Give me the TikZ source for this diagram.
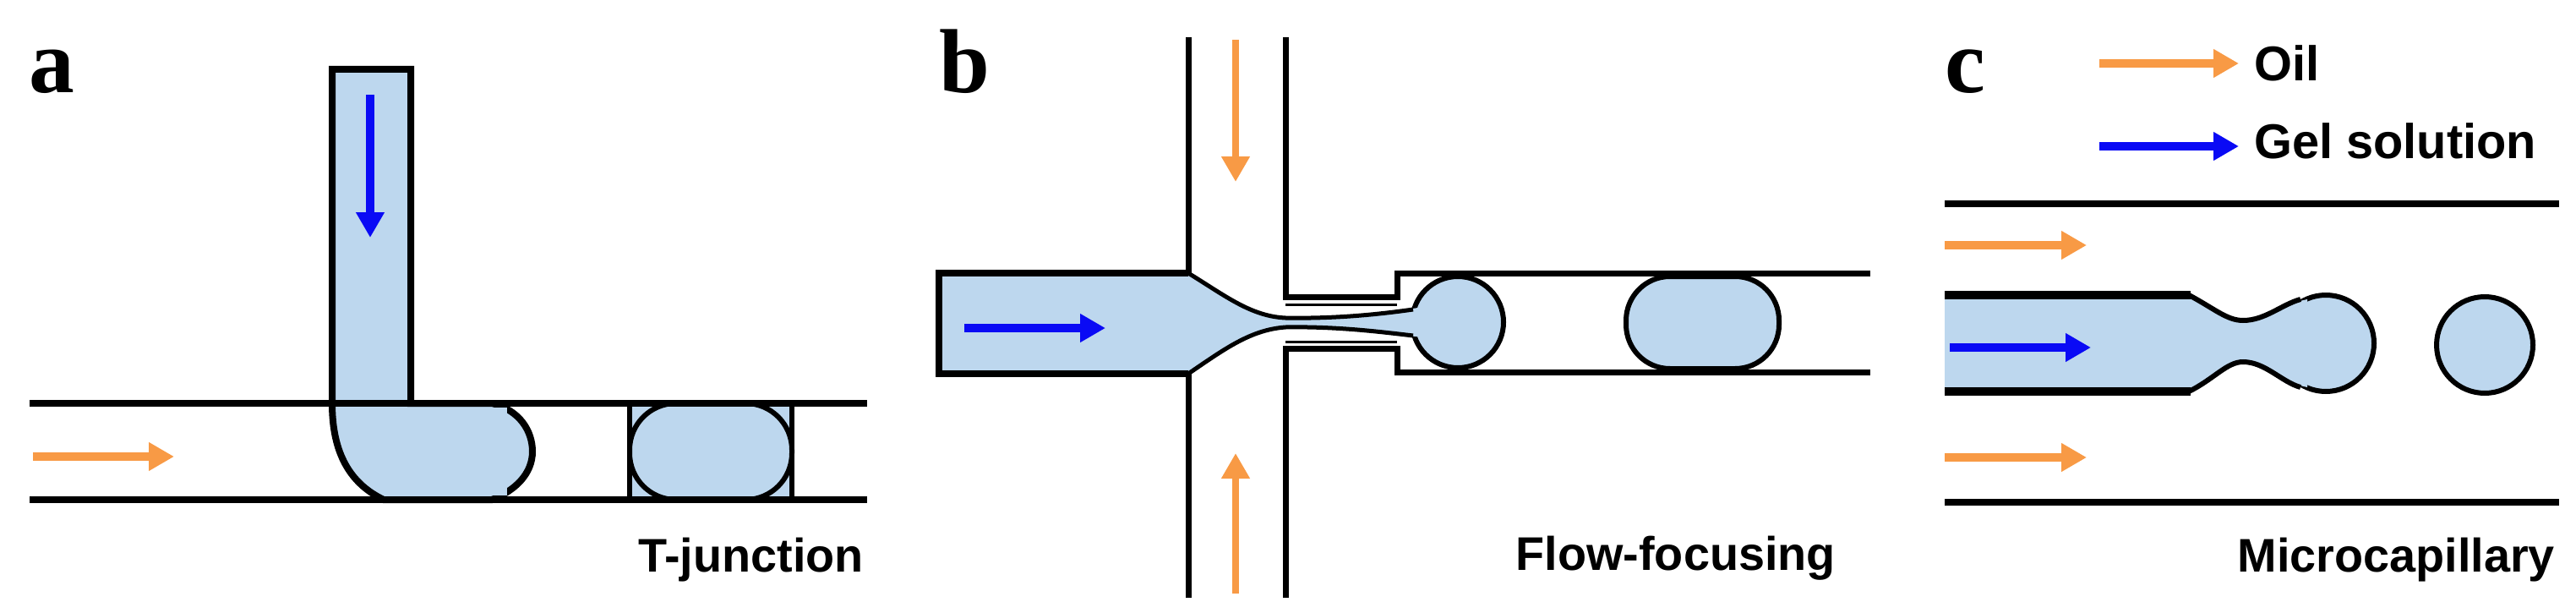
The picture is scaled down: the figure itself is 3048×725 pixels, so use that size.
\documentclass[tikz,border=0pt]{standalone}
\usepackage{fontspec}
\newfontfamily\lsans{Liberation Sans}
\newfontfamily\lserif{Liberation Serif}
\usetikzlibrary{arrows.meta}
\definecolor{fluid}{HTML}{BDD7EE}
\definecolor{oilc}{HTML}{F89A45}
\definecolor{gelc}{HTML}{0A0AF5}
\begin{document}
\begin{tikzpicture}[x=1bp,y=-1bp,
  wall/.style={line width=8bp,line cap=rect},
  dropl/.style={fill=fluid,draw=black,line width=6bp},
  oil/.style={oilc,line width=10bp,-{Triangle[length=30bp,width=32bp]}},
  gel/.style={gelc,line width=10bp,-{Triangle[length=30bp,width=32bp]}},
  letter/.style={font=\lserif\bfseries\fontsize{108}{108}\selectfont,inner sep=0,anchor=base west},
  lab/.style={font=\lsans\bfseries\fontsize{56}{56}\selectfont,inner sep=0}]
\useasboundingbox (0,0) rectangle (3048,725);
% ---------- panel a
\node[letter] (la) at (34,110) {a};
\draw[dropl,line width=8bp,line join=miter] (393,82) -- (486,82) -- (486,477) -- (582,477) .. controls (615,485) and (630,510) .. (630,534) .. controls (630,560) and (610,580) .. (582,591) -- (454,591) .. controls (410,570) and (393,530) .. (393,477) -- cycle;
\draw[wall] (39,477) -- (393,477) (486,477) -- (1022,477) (39,591) -- (1022,591);
\draw[dropl] (745,477) rectangle (937,591);
\draw[dropl,rounded corners=55bp] (745,477) rectangle (937,591);
\draw[wall] (39,477) -- (1022,477);
\fill[fluid] (500,482) rectangle (600,586);
\draw[wall] (486,477) -- (1022,477) (454,591) -- (1022,591);
\coordinate (ao1) at (39,540); \coordinate (ao2) at (206,540);
\draw[oil] (ao1) -- (ao2);
\coordinate (ag1) at (438,112); \coordinate (ag2) at (438,281);
\draw[gel] (ag1) -- (ag2);
\node[lab,anchor=base east] (ta) at (1022,676) {T-junction};
% ---------- panel b
\node[letter] (lb) at (1111,110) {b};
\draw[dropl] (1725,381) ellipse [x radius=54, y radius=54];
\fill[fluid] (1111,323) -- (1406,323) .. controls (1450,350) and (1480,374) .. (1521,376) .. controls (1580,377) and (1630,372) .. (1690,362) -- (1690,400) .. controls (1630,392) and (1580,386) .. (1521,387) .. controls (1480,390) and (1450,412) .. (1406,442) -- (1111,442) -- cycle;
\draw[line width=5bp] (1406,323) .. controls (1450,350) and (1480,374) .. (1521,376) .. controls (1580,377) and (1630,372) .. (1672,366);
\draw[line width=5bp] (1406,442) .. controls (1450,412) and (1480,390) .. (1521,387) .. controls (1580,386) and (1630,392) .. (1672,397);
\draw[wall,line cap=butt] (1406,323) -- (1111,323) -- (1111,442) -- (1406,442);
\draw[wall,line width=7bp,line cap=butt] (1406,44) -- (1406,323) (1406,442) -- (1406,707)
  (1521,44) -- (1521,351) -- (1653,351) -- (1653,323) -- (2213,323)
  (1521,707) -- (1521,412) -- (1653,412) -- (1653,440) -- (2213,440);
\draw[line width=3bp] (1521,360) -- (1653,360) (1521,404) -- (1653,404);
\draw[dropl,rounded corners=52bp] (1924,327) rectangle (2105,436);
\coordinate (bo1) at (1462,47); \coordinate (bo2) at (1462,215);
\coordinate (bo3) at (1462,702); \coordinate (bo4) at (1462,536);
\draw[oil,line width=8bp] (bo1) -- (bo2);
\draw[oil,line width=8bp] (bo3) -- (bo4);
\coordinate (bg1) at (1141,388); \coordinate (bg2) at (1308,388);
\draw[gel] (bg1) -- (bg2);
\node[lab,anchor=base east] (tb) at (2172,674) {Flow-focusing};
% ---------- panel c
\node[letter] (lc) at (2301,110) {c};
\coordinate (lo1) at (2484,75); \coordinate (lo2) at (2649,75);
\draw[oil] (lo1) -- (lo2);
\node[lab,anchor=base west,font=\lsans\bfseries\fontsize{58}{58}\selectfont] (toil) at (2667,96) {Oil};
\coordinate (lg1) at (2484,173); \coordinate (lg2) at (2649,173);
\draw[gel] (lg1) -- (lg2);
\node[lab,anchor=base west,font=\lsans\bfseries\fontsize{58}{58}\selectfont] (tgel) at (2667,187) {Gel solution};
\draw[wall,line cap=butt] (2301,241) -- (3028,241) (2301,594) -- (3028,594);
\draw[dropl] (2752,406) circle [radius=57];
\fill[fluid] (2301,349) -- (2590,349) .. controls (2620,365) and (2635,379) .. (2654,379) .. controls (2680,379) and (2700,360) .. (2730,354) -- (2730,458) .. controls (2700,452) and (2680,428) .. (2654,428) .. controls (2635,428) and (2620,448) .. (2590,463) -- (2301,463) -- cycle;
\draw[line width=6bp] (2590,349) .. controls (2620,365) and (2635,379) .. (2654,379) .. controls (2680,379) and (2700,360) .. (2722,354);
\draw[line width=6bp] (2590,463) .. controls (2620,448) and (2635,428) .. (2654,428) .. controls (2680,428) and (2700,452) .. (2722,458);
\draw[wall,line width=10bp,line cap=butt] (2301,349) -- (2592,349) (2301,463) -- (2592,463);
\draw[dropl] (2940,408) circle [radius=57];
\coordinate (co1) at (2301,290); \coordinate (co2) at (2469,290);
\coordinate (co3) at (2301,541); \coordinate (co4) at (2469,541);
\draw[oil] (co1) -- (co2);
\draw[oil] (co3) -- (co4);
\coordinate (cg1) at (2307,411); \coordinate (cg2) at (2474,411);
\draw[gel] (cg1) -- (cg2);
\node[lab,anchor=base east] (tc) at (3023,676) {Microcapillary};
\end{tikzpicture}
\end{document}
